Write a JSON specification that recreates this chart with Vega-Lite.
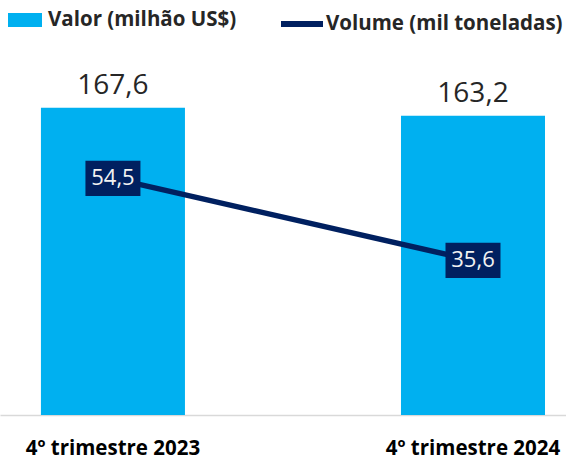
{
  "$schema": "https://vega.github.io/schema/vega-lite/v6.json",
  "width": 566,
  "height": 330,
  "autosize": {"type": "none"},
  "padding": {"left": 0, "top": 85, "right": 0, "bottom": 45},
  "background": "white",
  "data": {
    "values": [
      {"periodo": "4º trimestre 2023", "valor": 167.6, "volume": 54.5},
      {"periodo": "4º trimestre 2024", "valor": 163.2, "volume": 35.6}
    ]
  },
  "encoding": {
    "x": {
      "field": "periodo",
      "type": "nominal",
      "sort": null,
      "scale": {"paddingInner": 0.6, "paddingOuter": 0.086, "align": 0.661},
      "axis": {
        "title": null,
        "labelAngle": 0,
        "labelFont": "Open Sans",
        "labelFontSize": 20.5,
        "labelFontWeight": "bold",
        "labelColor": "#000000",
        "labelPadding": 23,
        "labelLimit": 400,
        "ticks": false,
        "domainColor": "#d9d9d9",
        "domainWidth": 1.5
      }
    }
  },
  "layer": [
    {
      "encoding": {
        "y": {
          "field": "valor",
          "type": "quantitative",
          "scale": {"domain": [0, 180]},
          "axis": null
        }
      },
      "layer": [
        {
          "mark": {"type": "bar"},
          "encoding": {
            "color": {
              "datum": "Valor (milhão US$)",
              "scale": {"range": ["#00b0f0"]},
              "legend": {
                "title": null,
                "orient": "none",
                "legendX": 8,
                "legendY": -82,
                "symbolType": "M-1,-0.41H1V0.41H-1Z",
                "symbolSize": 1156,
                "symbolStrokeWidth": 0,
                "labelOffset": 6,
                "labelLimit": 400,
                "labelFont": "Open Sans",
                "labelFontSize": 20.5,
                "labelFontWeight": "bold",
                "labelColor": "#262626"
              }
            }
          }
        },
        {
          "mark": {"type": "text", "baseline": "alphabetic", "dy": -14, "font": "Open Sans", "fontSize": 28, "color": "#262626"},
          "encoding": {
            "text": {"field": "valor", "type": "quantitative", "format": ".1f"}
          }
        }
      ]
    },
    {
      "encoding": {
        "y": {
          "field": "volume",
          "type": "quantitative",
          "scale": {"domain": [0, 76]},
          "axis": null
        }
      },
      "layer": [
        {
          "mark": {"type": "line", "strokeWidth": 5.5},
          "encoding": {
            "stroke": {
              "datum": "Volume (mil toneladas)",
              "scale": {"range": ["#002060"]},
              "legend": {
                "title": null,
                "orient": "none",
                "legendX": 278,
                "legendY": -85,
                "symbolType": "stroke",
                "symbolSize": 1764,
                "symbolStrokeWidth": 6,
                "labelOffset": 0,
                "labelLimit": 400,
                "labelFont": "Open Sans",
                "labelFontSize": 20.5,
                "labelFontWeight": "bold",
                "labelColor": "#262626"
              }
            }
          }
        },
        {
          "mark": {"type": "point", "shape": "M-1,-0.64H1V0.64H-1Z", "size": 3025, "filled": true, "color": "#002060", "opacity": 1}
        },
        {
          "mark": {"type": "text", "font": "Open Sans", "fontSize": 22, "color": "#f2f2f2"},
          "encoding": {
            "text": {"field": "volume", "type": "quantitative", "format": ".1f"}
          }
        }
      ]
    }
  ],
  "resolve": {"scale": {"y": "independent"}},
  "config": {
    "view": {"stroke": null},
    "locale": {
      "number": {"decimal": ",", "thousands": ".", "grouping": [3], "currency": ["R$", ""]}
    }
  }
}
